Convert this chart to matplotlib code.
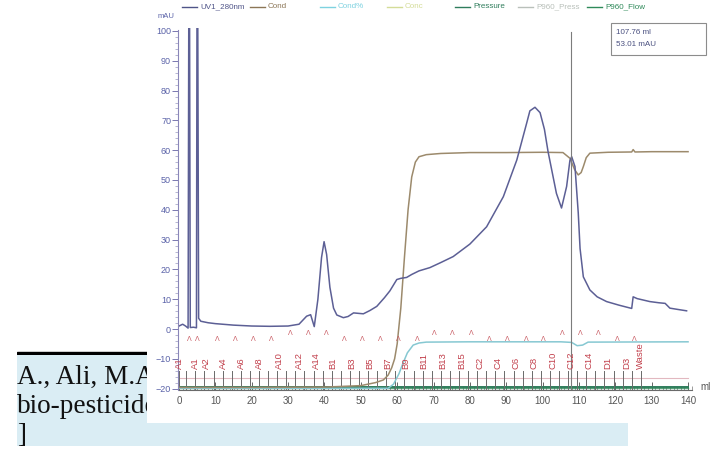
import matplotlib
matplotlib.use("Agg")
import matplotlib.pyplot as plt
from matplotlib.lines import Line2D
from matplotlib.patches import Rectangle

# ---- Datos
uv_ml = [0, 1.0, 1.8, 2.5, 2.7, 2.9, 3.1, 4.0, 4.8, 4.95, 5.15, 5.4, 6, 8, 10, 15, 20, 25, 30, 33,
         35.1, 36.2, 37.2, 38.2, 39.2, 39.9, 40.6, 41.5, 42.5, 43.4, 45.2, 46.5, 48, 50.7, 52.5,
         54.4, 56.5, 58, 59.9, 61, 62.6, 64, 66, 69, 72, 75.4, 80, 84.6, 89.2, 92.9, 95.6, 96.5,
         97.9, 99.3, 100.5, 101.5, 103.8, 105.2, 106.6, 107.5, 108, 108.9, 109.8, 110.3, 111.2,
         113, 115, 117.6, 121, 124.5, 124.9, 126, 129.5, 132, 133.7, 135, 137, 139.6]
uv_mau = [1.0, 1.6, 1.0, 0.3, 110, 110, 0.5, 0.6, 0.4, 110, 110, 3.6, 2.6, 2.1, 1.8, 1.3, 1.0, 0.9,
          1.0, 1.6, 4.3, 4.8, 0.8, 10, 24, 29.3, 25, 14, 7, 4.7, 3.8, 4.2, 5.4, 5.1, 6.2, 7.6, 10.5,
          12.8, 16.6, 17.0, 17.3, 18.3, 19.5, 20.6, 22.3, 24.3, 28.5, 34.3, 44.4, 56.7, 69.0, 73.2,
          74.4, 72.6, 67.0, 59.5, 45.5, 40.6, 47.8, 56.5, 57.8, 54.5, 39.0, 27.0, 17.5, 13.1, 10.8,
          9.2, 8.0, 6.9, 10.8, 10.2, 9.2, 8.8, 8.6, 7.0, 6.6, 6.1]

cond_ml = [0, 20, 40, 50, 54, 56.2, 57.5, 58.5, 59.3, 60, 61, 62, 63, 64, 65, 66, 68, 72, 80, 90,
           100, 105.6, 107.5, 108.8, 109.8, 110.6, 111.2, 112, 113, 118, 124.5, 124.9, 125.4, 130, 140]
cond_val = [-19.6, -19.6, -19.5, -19.0, -18.0, -17.1, -15.5, -13, -10, -5, 7, 24, 40, 51, 56, 57.8,
            58.5, 58.9, 59.2, 59.2, 59.3, 59.2, 57.3, 53.5, 51.7, 52.5, 54.5, 57.5, 59, 59.3, 59.4,
            60.2, 59.4, 59.5, 59.5]

condp_ml = [0, 57.5, 59, 60.5, 61.6, 62.8, 64.4, 66, 68, 80, 105, 108, 109.5, 111, 112.5, 140]
condp_val = [-19.9, -19.9, -18.5, -15, -11.5, -8, -5.4, -4.7, -4.4, -4.3, -4.3, -4.5, -5.6, -5.4, -4.4, -4.3]

presion_ml = [0, 140]
presion_val = [-19.6, -19.6]
flujo_val = [-19.9, -19.9]
p960_press_val = [-16.3, -16.3]

fracciones = ["A1", "A1", "A2", "A4", "A6", "A8", "A10", "A12", "A14", "B1", "B3", "B5", "B7",
              "B9", "B11", "B13", "B15", "C2", "C4", "C6", "C8", "C10", "C12", "C14", "D1", "D3", "Waste"]
fracciones_ml = [0.2, 4.4, 7.6, 12.1, 17.2, 22, 27.7, 33, 37.8, 42.4, 47.5, 52.5, 57.4, 62.4, 67.4,
                 72.6, 77.8, 82.8, 87.6, 92.6, 97.6, 102.8, 107.8, 112.8, 117.9, 123.1, 126.8]
marcas_frac_ml = [0] + [2 + 2.5 * k for k in range(51)]

eventos_ml = [2.9, 5.0, 10.4, 15.4, 20.4, 25.5, 30.5, 35.5, 40.4, 45.4, 50.4, 55.4, 60.4, 65.4,
              70.2, 75.1, 80.3, 85.3, 90.3, 95.5, 100.2, 105.4, 110.3, 115.3, 120.4, 125.2]
eventos_nivel = [0] * 6 + [1] * 3 + [0] * 5 + [1] * 3 + [0] * 4 + [1] * 3 + [0] * 2

cursor_ml = 107.76
cursor_mau = 53.01

leyenda = ["UV1_280nm", "Cond", "Cond%", "Conc", "Pressure", "P960_Press", "P960_Flow"]
leyenda_colores = ["#4f5488", "#8c7656", "#7ed2e0", "#d4dc98", "#2f7d5c", "#b9c0ba", "#2f8a5a"]

fuente = "Liberation Sans"

W, H = 715, 465
fig = plt.figure(figsize=(W / 100, H / 100), dpi=100)


def fx(px):
    return px / W


def fy(py):
    return 1 - py / H


# ---- Cuadro de texto del documento (detras de la grafica)
ax_txt = fig.add_axes([fx(17), fy(423), fx(200) - fx(17), fy(354) - fy(423)])
ax_txt.set_axis_off()
ax_txt.add_patch(Rectangle((0, 0), 1, 1, transform=ax_txt.transAxes, color="#daedf4"))
ax_txt.text(0.0, 0.57, "A., Ali, M.A", transform=ax_txt.transAxes, family="Liberation Serif",
            fontsize=19.6, color="#111111")
ax_txt.text(0.0, 0.15, "bio-pesticide", transform=ax_txt.transAxes, family="Liberation Serif",
            fontsize=19.6, color="#111111")

ax_band = fig.add_axes([fx(17), fy(446), fx(628) - fx(17), fy(423) - fy(446)])
ax_band.set_axis_off()
ax_band.add_patch(Rectangle((0, 0), 1, 1, transform=ax_band.transAxes, color="#daedf4"))
ax_band.text(0.0, 0.18, "]", transform=ax_band.transAxes, family="Liberation Serif",
             fontsize=19.6, color="#111111")

ax_linea = fig.add_axes([fx(17), fy(355), fx(147) - fx(17), fy(351) - fy(355)])
ax_linea.set_axis_off()
ax_linea.add_patch(Rectangle((0, 0.25), 1, 0.55, transform=ax_linea.transAxes, color="black"))

# Fondo blanco de la imagen del cromatograma (tapa el texto)
ax_img = fig.add_axes([fx(147), fy(423), 1 - fx(147), fy(0) - fy(423)])
ax_img.set_axis_off()
ax_img.add_patch(Rectangle((0, 0), 1, 1, transform=ax_img.transAxes, color="white"))

# ---- Cromatograma
ax = fig.add_axes([fx(178), fy(389.5), fx(693) - fx(178), fy(28) - fy(389.5)])
ax.set_xlim(-0.275, 141.36)
ax.set_ylim(-20.3, 101.0)
ax.patch.set_alpha(0)

ax.plot(presion_ml, p960_press_val, color="#e2b8c0", lw=0.8)
ax.plot(presion_ml, presion_val, color=leyenda_colores[4], lw=1.4)
ax.plot(presion_ml, flujo_val, color=leyenda_colores[6], lw=1.0, alpha=0.8)

for m in marcas_frac_ml:
    ax.plot([m, m], [-20.2, -14.2], color="#6a6a6a", lw=0.7)

ax.plot(condp_ml, condp_val, color="#86c8d2", lw=1.1)
ax.plot(cond_ml, cond_val, color="#9c8a6c", lw=1.1)
ax.plot(uv_ml, uv_mau, color="#5c5f95", lw=1.1)

ax.plot([cursor_ml, cursor_ml], [-20.3, 99.7], color="#7c7c7c", lw=0.8)

for nombre, pos in zip(fracciones, fracciones_ml):
    ax.text(pos, -13.4, nombre, rotation=90, ha="center", va="bottom", fontsize=6.8,
            color="#c2404c", family=fuente)

for pos, nivel in zip(eventos_ml, eventos_nivel):
    ax.text(pos, -4.8 + 2.2 * nivel, "\u039b", ha="center", va="bottom", fontsize=5,
            color="#c85a62", family=fuente)

# Ejes tipo regla
for s in ["top", "right"]:
    ax.spines[s].set_visible(False)
ax.spines["left"].set_color("#8a86b8")
ax.spines["left"].set_bounds(-20.3, 100.4)
ax.spines["bottom"].set_color("#6a6a6a")
ax.spines["bottom"].set_bounds(0, 141)

ax.set_yticks(range(-20, 101, 10))
ax.set_yticks(range(-20, 101, 2), minor=True)
ax.set_xticks(range(0, 141, 10))
ax.set_xticks(range(0, 142, 1), minor=True)
ax.tick_params(axis="y", which="major", direction="out", length=4, width=0.7, color="#7a78b0",
               labelsize=6.5, labelcolor="#5a62a8", pad=1)
ax.tick_params(axis="y", which="minor", direction="out", length=2, width=0.5, color="#9a98c0")
ax.tick_params(axis="x", which="major", direction="in", length=6, width=0.7, color="#666666",
               labelsize=7, labelcolor="#555555", pad=5)
ax.tick_params(axis="x", which="minor", direction="in", length=3, width=0.5, color="#777777")
for lab in ax.get_xticklabels() + ax.get_yticklabels():
    lab.set_family(fuente)

ax.text(143.5, -19.5, "ml", fontsize=7, color="#555555", va="center", family=fuente)
fig.text(fx(158), fy(17), "mAU", fontsize=5.5, color="#5a62a8", va="center", family=fuente)

# Leyenda superior
leyenda_x = [182, 250, 320, 387, 455, 518, 587]
for x0, nombre, col in zip(leyenda_x, leyenda, leyenda_colores):
    fig.add_artist(Line2D([fx(x0), fx(x0 + 15)], [fy(7), fy(7)], color=col, lw=1.0))
    fig.text(fx(x0 + 18), fy(7), nombre, fontsize=5.8, color=col, va="center", family=fuente)

# Cuadro del cursor
fig.add_artist(Rectangle((fx(611), fy(55)), fx(706) - fx(611), fy(23) - fy(55),
                         facecolor="white", edgecolor="#8c8c8c", lw=0.8))
fig.text(fx(616), fy(32), f"{cursor_ml:.2f} ml", fontsize=5.8, color="#4a5080", va="center", family=fuente)
fig.text(fx(616), fy(45), f"{cursor_mau:.2f} mAU", fontsize=5.8, color="#4a5080", va="center", family=fuente)

fig.savefig("out.png", dpi=100)
